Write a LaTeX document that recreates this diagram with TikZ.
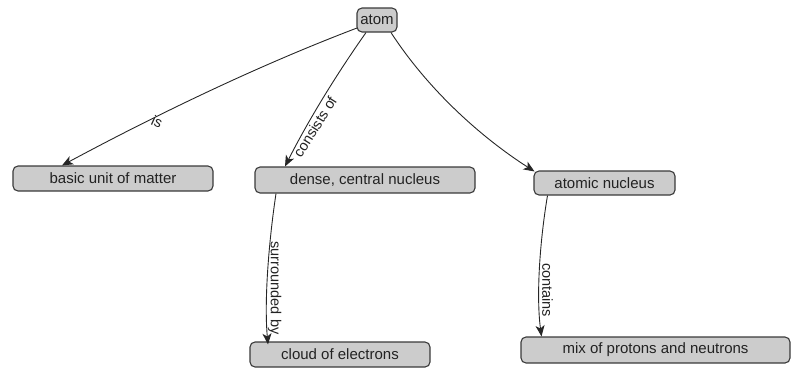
\documentclass[tikz,border=0pt]{standalone}
\usepackage{fontspec}
\setmainfont{Liberation Sans}
\usetikzlibrary{arrows.meta}

\definecolor{boxfill}{HTML}{CCCCCC}
\definecolor{boxline}{HTML}{3A3A3A}
\definecolor{inktext}{HTML}{222222}

\tikzset{
  concept/.style={draw=boxline, fill=boxfill, line width=1.1pt,
    rounded corners=5bp, inner sep=0pt, text=inktext,
    font=\fontsize{15bp}{17bp}\selectfont},
  link/.style={draw=black!85, line width=0.9pt,
    -{Stealth[length=11bp,width=9bp,inset=3bp]}},
  linklabel/.style={text=inktext, inner sep=0pt,
    font=\fontsize{14.5bp}{16bp}\selectfont}
}

\begin{document}
\begin{tikzpicture}[x=1bp,y=-1bp]
  \useasboundingbox (0,0) rectangle (791,368);

  % concepts
  \node[concept, minimum width=40bp,  minimum height=24bp] (atom)   at (377,20)  {atom};
  \node[concept, minimum width=200bp, minimum height=25bp] (basic)  at (113,178.5) {basic unit of matter};
  \node[concept, minimum width=220bp, minimum height=26bp] (dense)  at (365,180) {dense, central nucleus};
  \node[concept, minimum width=141bp, minimum height=24bp] (atomic) at (604.5,183) {atomic nucleus};
  \node[concept, minimum width=180bp, minimum height=25bp] (cloud)  at (340,354.5) {cloud of electrons};
  \node[concept, minimum width=269bp, minimum height=26bp] (mix)    at (655.5,350) {mix of protons and neutrons};

  % link end points on the concept borders
  \coordinate (a1) at ([xshift=-20bp,yshift=-8bp]atom.center);
  \coordinate (a2) at ([xshift=-11bp]atom.south);
  \coordinate (a3) at ([xshift=14bp]atom.south);
  \coordinate (b1) at ([xshift=-51bp]basic.north);
  \coordinate (d1) at ([xshift=-80bp]dense.north);
  \coordinate (d2) at ([xshift=-89bp]dense.south);
  \coordinate (n1) at ([xshift=-70bp,yshift=-1bp]atomic.north);
  \coordinate (n2) at ([xshift=-57bp]atomic.south);
  \coordinate (c1) at ([xshift=-72bp,yshift=-3bp]cloud.north);
  \coordinate (m1) at ([xshift=-114bp]mix.north);

  % links
  \draw[link] (a1) .. controls (257,66) and (156,115) .. (b1);
  \draw[link] (a2) .. controls (336,75) and (308,121) .. (d1);
  \draw[link] (a3) .. controls (427,88) and (479,136) .. (n1);
  \draw[link] (d2) .. controls (269,240) and (264,300) .. (c1);
  \draw[link] (n2) .. controls (540,240) and (536,295) .. (m1);

  % link labels, set just beside their links
  \node[linklabel, rotate=-24] (lis)  at (157,122) {is};
  \node[linklabel, rotate=58]  (lcon) at (315,127) {consists of};
  \node[linklabel, rotate=-90] (lsur) at (274.5,288) {surrounded by};
  \node[linklabel, rotate=-90] (lcnt) at (547.5,290) {contains};
\end{tikzpicture}
\end{document}
